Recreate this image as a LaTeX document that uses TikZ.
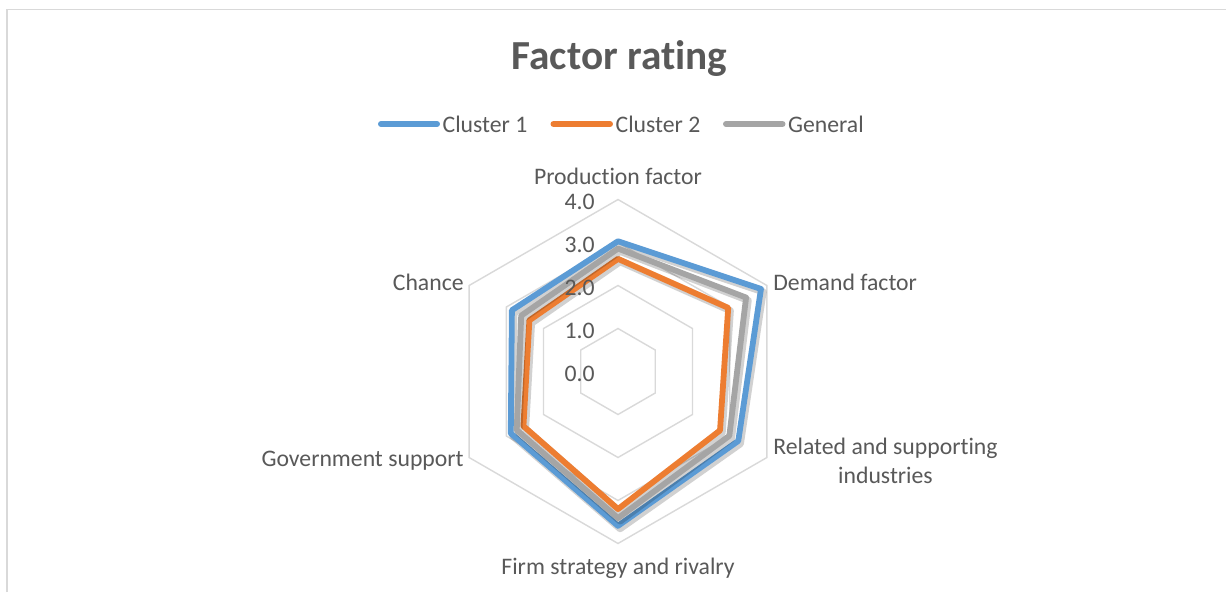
\documentclass[tikz,border=0pt]{standalone}
\usepackage{fontspec}
\setmainfont{Carlito}[Ligatures={NoCommon,NoRare}]
\usepackage{xcolor}
\usepackage{tikz}
\definecolor{seriesblue}{HTML}{5B9BD5}
\definecolor{seriesorange}{HTML}{ED7D31}
\definecolor{seriesgray}{HTML}{A5A5A5}
\definecolor{textgray}{HTML}{595959}
\definecolor{gridgray}{HTML}{D9D9D9}
\usetikzlibrary{positioning}

\begin{document}
\begin{tikzpicture}[
    x=0.02cm, y=-0.02cm,
    gridline/.style={draw=gridgray, line width=0.8pt},
    series/.style={line width=3.3pt, line join=round},
    seriesshadow/.style={draw=black, opacity=0.18, line width=4pt, line join=round, xshift=1.2pt, yshift=-1.6pt},
    legendline/.style={line width=3.4pt, line cap=round},
    legendtext/.style={text=textgray, font=\fontsize{13.5}{16}\selectfont, inner sep=0pt},
    axislabel/.style={text=textgray, font=\fontsize{13.5}{16.4}\selectfont, inner sep=0pt, align=center},
    ticklabel/.style={text=textgray, font=\fontsize{13.5}{16}\selectfont, inner sep=0pt, anchor=east}
]
    \useasboundingbox (0,0) rectangle (1226,592);
    \fill[white] (0,0) rectangle (1226,592);
    \draw[gridgray, line width=0.8pt] (7,592) -- (7,9.5) -- (1226,9.5);

    % Title
    \node[text=textgray, font=\fontsize{23.5}{28}\selectfont\bfseries] (title) at (619.5,59) {Factor rating};

    % Legend
    \coordinate (c1a) at (381,124);
    \coordinate (c1b) at (437,124);
    \coordinate (c2a) at (553.5,124);
    \coordinate (c2b) at (610,124);
    \coordinate (gena) at (726,124);
    \coordinate (genb) at (782.5,124);
    \draw[legendline, seriesblue] (c1a) -- (c1b);
    \node[legendtext, anchor=west, right=3pt of c1b] (leg1) {Cluster 1};
    \draw[legendline, seriesorange] (c2a) -- (c2b);
    \node[legendtext, anchor=west, right=3pt of c2b] (leg2) {Cluster 2};
    \draw[legendline, seriesgray] (gena) -- (genb);
    \node[legendtext, anchor=west, right=3pt of genb] (leg3) {General};

    % Radar grid and series
    \begin{scope}[shift={(618,371.5)}, x=0.86cm, y=0.86cm]
        \foreach \r in {1,...,4}
            \draw[gridline] (90:\r) \foreach \a in {30,-30,-90,-150,150} { -- (\a:\r) } -- cycle;

        % Cluster 1
        \draw[seriesshadow] (90:3.03) -- (30:3.84) -- (-30:3.23) -- (-90:3.59) -- (-150:2.88) -- (150:2.85) -- cycle;
        \draw[series, seriesblue] (90:3.03) -- (30:3.84) -- (-30:3.23) -- (-90:3.59) -- (-150:2.88) -- (150:2.85) -- cycle;
        % Cluster 2
        \draw[seriesshadow] (90:2.62) -- (30:2.96) -- (-30:2.74) -- (-90:3.20) -- (-150:2.54) -- (150:2.38) -- cycle;
        \draw[series, seriesorange] (90:2.62) -- (30:2.96) -- (-30:2.74) -- (-90:3.20) -- (-150:2.54) -- (150:2.38) -- cycle;
        % General
        \draw[seriesshadow] (90:2.86) -- (30:3.44) -- (-30:2.99) -- (-90:3.41) -- (-150:2.72) -- (150:2.60) -- cycle;
        \draw[series, seriesgray] (90:2.86) -- (30:3.44) -- (-30:2.99) -- (-90:3.41) -- (-150:2.72) -- (150:2.60) -- cycle;
    \end{scope}

    % Scale
    \foreach \k in {0,...,4}
        \node[ticklabel] (tick\k) at (595,{373.5-43*\k}) {\k.0};

    % Axis labels
    \node[axislabel] (prod) at (618,176) {Production factor};
    \node[axislabel, anchor=west] (demand) at (773,282) {Demand factor};
    \node[axislabel, anchor=west] (related) at (773,461) {Related and supporting\\industries};
    \node[axislabel] (firm) at (618,568) {Firm strategy and rivalry};
    \node[axislabel, anchor=east] (gov) at (464,461) {Government support};
    \node[axislabel, anchor=east] (chance) at (464,282) {Chance};
\end{tikzpicture}
\end{document}
